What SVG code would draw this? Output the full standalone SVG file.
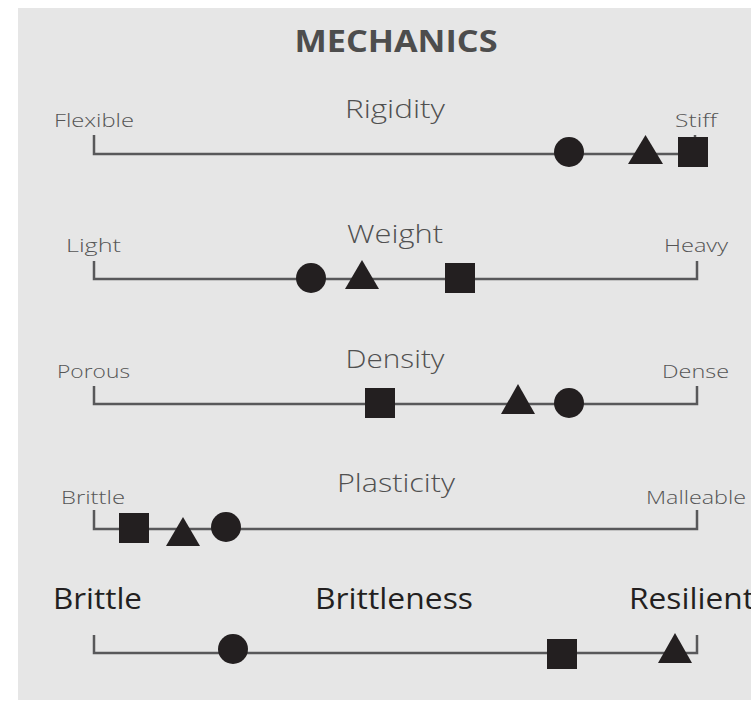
<svg xmlns="http://www.w3.org/2000/svg" width="751" height="702" viewBox="0 0 751 702">
<style>
.ax{fill:none;stroke:#58585a;stroke-width:2.5}
.mk{fill:#231f20}
.t{font-family:"Open Sans","Liberation Sans",sans-serif;fill:#5a5a5a}
.h{font-size:26px;text-anchor:middle;font-weight:300;fill:#505050}
.s{font-size:19px;font-weight:300;fill:#555}
.big{font-size:29px;fill:#231f20}
.title{font-size:30px;font-weight:bold;fill:#4d4d4d;text-anchor:middle}
</style>
<rect x="18" y="8" width="733" height="692" fill="#e6e6e6"/>
<text class="t title" x="396" y="52" textLength="203" lengthAdjust="spacingAndGlyphs">MECHANICS</text>
<g id="connectors">
<path class="ax" d="M94,135 V154 H695 V135"/>
<path class="ax" d="M94,261 V279 H697 V261"/>
<path class="ax" d="M94,386 V404 H697 V386"/>
<path class="ax" d="M94,510 V529 H697 V510"/>
<path class="ax" d="M94,635 V653 H697 V635"/>
</g>
<g id="rigidity">
<text class="t h" x="395" y="118" textLength="100" lengthAdjust="spacingAndGlyphs">Rigidity</text>
<text class="t s" x="54" y="127" textLength="80" lengthAdjust="spacingAndGlyphs">Flexible</text>
<text class="t s" x="675" y="127" textLength="42" lengthAdjust="spacingAndGlyphs">Stiff</text>
<circle class="mk" cx="569" cy="152" r="15"/>
<polygon class="mk" points="628,164 645.5,135 663,164"/>
<rect class="mk" x="678" y="137" width="30" height="30"/>
</g>
<g id="weight">
<text class="t h" x="395" y="243" textLength="96" lengthAdjust="spacingAndGlyphs">Weight</text>
<text class="t s" x="66" y="252" textLength="55" lengthAdjust="spacingAndGlyphs">Light</text>
<text class="t s" x="664" y="252" textLength="64" lengthAdjust="spacingAndGlyphs">Heavy</text>
<circle class="mk" cx="311" cy="278" r="15"/>
<polygon class="mk" points="345,289 362,260 379,289"/>
<rect class="mk" x="445" y="263" width="30" height="30"/>
</g>
<g id="density">
<text class="t h" x="395" y="368" textLength="99" lengthAdjust="spacingAndGlyphs">Density</text>
<text class="t s" x="57" y="378" textLength="73" lengthAdjust="spacingAndGlyphs">Porous</text>
<text class="t s" x="662" y="378" textLength="67" lengthAdjust="spacingAndGlyphs">Dense</text>
<rect class="mk" x="365" y="388" width="30" height="30"/>
<polygon class="mk" points="501,414 518,384 535,414"/>
<circle class="mk" cx="569" cy="403" r="15"/>
</g>
<g id="plasticity">
<text class="t h" x="396" y="492" textLength="118" lengthAdjust="spacingAndGlyphs">Plasticity</text>
<text class="t s" x="61" y="504" textLength="64" lengthAdjust="spacingAndGlyphs">Brittle</text>
<text class="t s" x="646" y="504" textLength="100" lengthAdjust="spacingAndGlyphs">Malleable</text>
<rect class="mk" x="119" y="513" width="30" height="30"/>
<polygon class="mk" points="166,546 183,517 200,546"/>
<circle class="mk" cx="226" cy="527" r="15"/>
</g>
<g id="brittleness">
<text class="t big" x="394" y="609" text-anchor="middle" textLength="158" lengthAdjust="spacingAndGlyphs">Brittleness</text>
<text class="t big" x="53" y="609" textLength="89" lengthAdjust="spacingAndGlyphs">Brittle</text>
<text class="t big" x="629" y="609" textLength="125" lengthAdjust="spacingAndGlyphs">Resilient</text>
<circle class="mk" cx="233" cy="649" r="15"/>
<rect class="mk" x="547" y="639" width="30" height="30"/>
<polygon class="mk" points="658,663 675,633 692,663"/>
</g>
</svg>
